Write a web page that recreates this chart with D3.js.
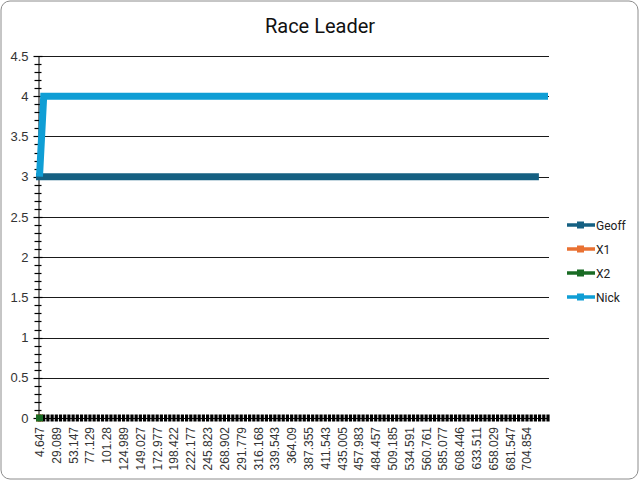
<!DOCTYPE html>
<html><head><meta charset="utf-8">
<script src="https://cdn.jsdelivr.net/npm/d3@7"></script>
<style>body{margin:0;background:#fff}svg{display:block}</style>
</head><body>
<script>
// ---- data ----
const categoryCount = 122; // number of x categories
const tickLabels = ["4.647","29.089","53.147","77.129","101.28","124.989","149.027","172.977","198.422","222.177","245.823","268.902","291.779","316.168","339.543","364.09","387.355","411.543","435.005","457.983","484.457","509.185","534.591","560.761","585.077","608.446","633.511","658.029","681.547","704.854"];
const labelInterval = 4;
const geoff = [3,3,3,3,3,3,3,3,3,3,3,3,3,3,3,3,3,3,3,3,3,3,3,3,3,3,3,3,3,3,3,3,3,3,3,3,3,3,3,3,3,3,3,3,3,3,3,3,3,3,3,3,3,3,3,3,3,3,3,3,3,3,3,3,3,3,3,3,3,3,3,3,3,3,3,3,3,3,3,3,3,3,3,3,3,3,3,3,3,3,3,3,3,3,3,3,3,3,3,3,3,3,3,3,3,3,3,3,3,3,3,3,3,3,3,3,3,3,3];
const x1 = [0];
const x2 = [0];
const nick = [3,4,4,4,4,4,4,4,4,4,4,4,4,4,4,4,4,4,4,4,4,4,4,4,4,4,4,4,4,4,4,4,4,4,4,4,4,4,4,4,4,4,4,4,4,4,4,4,4,4,4,4,4,4,4,4,4,4,4,4,4,4,4,4,4,4,4,4,4,4,4,4,4,4,4,4,4,4,4,4,4,4,4,4,4,4,4,4,4,4,4,4,4,4,4,4,4,4,4,4,4,4,4,4,4,4,4,4,4,4,4,4,4,4,4,4,4,4,4,4,4,4];
const yTicks = [0,0.5,1,1.5,2,2.5,3,3.5,4,4.5];
const seriesNames = ["Geoff","X1","X2","Nick"];
const colors = ["#156082","#E97132","#196B24","#0F9ED5"];

(function(){
const W = 640, H = 481;
const svg = d3.select("body").append("svg").attr("width", W).attr("height", H);
svg.append("rect").attr("x",1).attr("y",1).attr("width",W-3).attr("height",H-3)
  .attr("rx",9).attr("fill","#fff").attr("stroke","#8c8c8c").attr("stroke-width",1);

svg.append("text").attr("x",320).attr("y",33).attr("text-anchor","middle")
  .attr("font-family","Roboto, 'Open Sans', sans-serif").attr("font-size",20).attr("fill","#111")
  .text("Race Leader");

const pL = 38.5, pR = 549, pT = 56, pB = 418;
const x = d3.scaleLinear().domain([0, categoryCount-1]).range([pL+1, pR-1]);
const y = d3.scaleLinear().domain([0,4.5]).range([pB, pT]);

// gridlines
svg.append("g").selectAll("line").data(yTicks.filter(d=>d>0)).join("line")
  .attr("x1",pL).attr("x2",pR).attr("y1",d=>Math.round(y(d))+0.5).attr("y2",d=>Math.round(y(d))+0.5)
  .attr("stroke","#1a1a1a").attr("stroke-width",1);

// y axis
const yAxis = d3.axisLeft(y).tickValues(yTicks).tickSize(0).tickPadding(10).tickFormat(d=>String(d));
const gy = svg.append("g").attr("transform",`translate(${pL},0)`).call(yAxis);
gy.select(".domain").attr("stroke","#000");
gy.selectAll("text").attr("font-family","'Liberation Sans', Arial, sans-serif").attr("font-size",13).attr("fill","#333");
const minor = d3.range(0,46).map(i=>i/10);
svg.append("g").selectAll("line").data(minor).join("line")
  .attr("x1",d=> (Math.round(d*10)%5===0)? pL-5 : pL-4)
  .attr("x2",d=> (Math.round(d*10)%5===0)? pL+4 : pL+3)
  .attr("y1",d=>Math.round(y(d))+0.5).attr("y2",d=>Math.round(y(d))+0.5)
  .attr("stroke","#000").attr("stroke-width",1.2);

// x axis line & category tick marks
svg.append("line").attr("x1",pL).attr("x2",pR).attr("y1",pB+0.5).attr("y2",pB+0.5).attr("stroke","#000");
svg.append("g").selectAll("line").data(d3.range(categoryCount)).join("line")
  .attr("x1",d=>x(d)).attr("x2",d=>x(d)).attr("y1",pB-3.5).attr("y2",pB+3.5)
  .attr("stroke","#000").attr("stroke-width",3.2);

// x labels
const xl = svg.append("g");
tickLabels.forEach((t,i)=>{
  const xi = x(i*labelInterval);
  xl.append("text").attr("transform",`translate(${xi+4.5},${pB+9}) rotate(-90)`)
    .attr("text-anchor","end").attr("font-family","'Liberation Sans', Arial, sans-serif")
    .attr("font-size",12).attr("fill","#333").text(t);
});

// series
const line = d3.line().x((d,i)=>x(i)).y(d=>y(d));
const data = [geoff, x1, x2, nick];
data.forEach((s,k)=>{
  if (s.length>1) svg.append("path").datum(s).attr("d",line).attr("fill","none")
    .attr("stroke",colors[k]).attr("stroke-width",7).attr("stroke-linejoin","miter")
    .attr("stroke-linecap", k===0 ? "square" : "butt");
  if (s.length===1) svg.append("rect").attr("x",x(0)-3.5).attr("y",y(s[0])-3.5).attr("width",7).attr("height",7).attr("fill",colors[k]);
});

// legend
const ly = [225,249,273,297];
seriesNames.forEach((n,k)=>{
  const g = svg.append("g");
  g.append("line").attr("x1",567).attr("x2",595).attr("y1",ly[k]).attr("y2",ly[k]).attr("stroke",colors[k]).attr("stroke-width",3.5);
  g.append("rect").attr("x",577).attr("y",ly[k]-3.5).attr("width",7).attr("height",7).attr("fill",colors[k]);
  g.append("text").attr("x",596).attr("y",ly[k]+4.5).attr("font-family","Roboto, 'Open Sans', sans-serif")
    .attr("font-size",12).attr("fill","#222").text(n);
});
})();
</script>
</body></html>
